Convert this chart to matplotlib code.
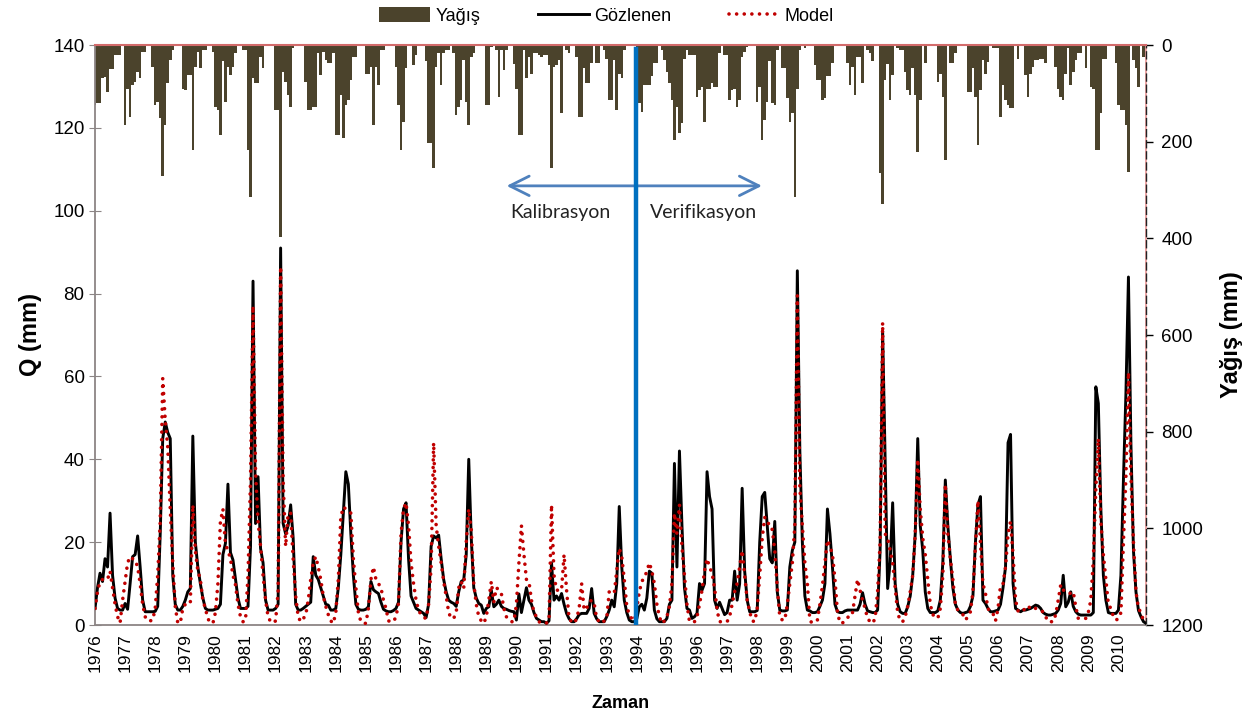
import matplotlib
matplotlib.use("Agg")
import matplotlib.pyplot as plt
import numpy as np
from matplotlib.lines import Line2D
from matplotlib.patches import Patch

# monthly series, Jan 1976 - Dec 2010 (one row = one year)
years = list(range(1976, 2011))

precip_mm = [
    124, 121, 121, 69, 67, 97, 50, 50, 21, 21, 21, 3,        # 1976
    165, 90, 148, 83, 76, 55, 69, 14, 14, 0, 0, 45,          # 1977
    125, 117, 152, 272, 165, 79, 31, 10, 3, 3, 3, 90,        # 1978
    93, 62, 62, 217, 45, 14, 48, 10, 10, 3, 0, 14,           # 1979
    128, 134, 186, 34, 117, 45, 62, 45, 17, 0, 0, 10,        # 1980
    10, 217, 314, 69, 79, 79, 24, 48, 3, 0, 0, 3,            # 1981
    134, 134, 397, 55, 76, 103, 128, 7, 3, 0, 0, 0,          # 1982
    76, 134, 134, 128, 128, 17, 62, 14, 31, 38, 38, 17,      # 1983
    186, 186, 103, 193, 124, 114, 72, 24, 24, 3, 0, 0,       # 1984
    59, 59, 45, 166, 45, 83, 10, 10, 3, 3, 3, 3,             # 1985
    45, 124, 217, 159, 48, 3, 3, 41, 21, 3, 3, 3,            # 1986
    34, 203, 203, 255, 45, 17, 83, 17, 10, 10, 3, 17,        # 1987
    145, 128, 114, 31, 117, 166, 24, 17, 3, 3, 3, 3,         # 1988
    124, 124, 5, 3, 10, 107, 10, 52, 10, 0, 0, 40,           # 1989
    90, 186, 186, 10, 69, 24, 59, 17, 17, 21, 24, 21,        # 1990
    21, 41, 255, 45, 41, 31, 141, 3, 10, 17, 3, 3,           # 1991
    24, 148, 148, 48, 79, 79, 38, 3, 38, 38, 3, 10,          # 1992
    28, 114, 114, 31, 134, 59, 69, 10, 3, 0, 0, 0,           # 1993
    121, 121, 138, 83, 83, 83, 65, 38, 38, 3, 10, 31,        # 1994
    55, 79, 114, 197, 128, 183, 162, 28, 10, 21, 21, 21,     # 1995
    107, 93, 86, 159, 90, 90, 79, 86, 86, 17, 3, 21,         # 1996
    21, 114, 93, 90, 128, 114, 24, 14, 5, 0, 3, 3,           # 1997
    117, 86, 197, 155, 117, 34, 121, 124, 10, 3, 48, 48,     # 1998
    110, 159, 141, 314, 90, 10, 3, 7, 3, 3, 3, 41,           # 1999
    72, 72, 114, 110, 65, 65, 38, 3, 0, 0, 0, 0,             # 2000
    38, 83, 45, 103, 24, 24, 79, 3, 10, 17, 34, 0,           # 2001
    3, 265, 328, 72, 40, 114, 62, 3, 7, 10, 10, 55,          # 2002
    93, 103, 48, 103, 221, 114, 3, 38, 3, 3, 0, 0,           # 2003
    76, 59, 107, 238, 3, 38, 38, 17, 3, 3, 3, 3,             # 2004
    97, 97, 48, 107, 207, 93, 31, 59, 35, 3, 7, 7,           # 2005
    7, 148, 83, 114, 124, 131, 131, 3, 28, 3, 3, 62,         # 2006
    107, 59, 45, 31, 31, 28, 28, 38, 3, 3, 3, 45,            # 2007
    90, 107, 114, 60, 7, 83, 55, 31, 17, 17, 3, 48,          # 2008
    3, 86, 90, 217, 217, 140, 28, 28, 3, 0, 0, 38,           # 2009
    124, 134, 134, 166, 262, 3, 31, 48, 86, 0, 24, 24,       # 2010
]

observed_q = [
    4, 9, 12.5, 10.5, 16, 14, 27, 12, 6.5, 4, 3.6, 3.6,
    5.2, 3.8, 10, 16.5, 17, 21.5, 14, 6, 3.2, 3.2, 3.2, 3.2,
    3.3, 4.5, 22, 45, 49, 46.5, 45, 12, 5, 3.6, 3.6, 4.5,
    6, 8, 8.8, 45.6, 20, 14, 10, 6.5, 4, 3.6, 3.6, 3.6,
    3.8, 4, 5, 17, 19.7, 34, 17.5, 15.7, 11, 6.5, 4, 4,
    4, 4.5, 19, 83, 24.5, 35.8, 18.5, 15, 6, 3.6, 3.6, 3.6,
    4, 5, 91, 24.5, 22, 24, 29, 21, 5, 3.6, 3.6, 4,
    4.5, 5, 5.5, 16.5, 12, 11, 9, 7, 5, 4.8, 3.6, 3.6,
    4, 9, 17, 27, 37, 34, 22, 12, 5, 3.8, 3.6, 3.6,
    3.8, 4.4, 10.5, 8.5, 8, 7.6, 5.5, 3.8, 3.4, 3.2, 3.2, 3.5,
    4, 5.5, 20, 28, 29.5, 16, 7, 5.5, 4, 3.6, 3.2, 2.8,
    1.8, 5, 19, 21.5, 21, 21.7, 16, 11, 8, 6, 5.5, 5.2,
    4.5, 8, 10.5, 10.9, 17, 40, 21, 9, 6.5, 5.2, 4.8, 2.8,
    4, 4.4, 8.4, 4.4, 5, 6, 4.5, 4, 3.8, 3.5, 3.3, 3.2,
    1.2, 7.5, 3, 6, 9, 6, 5, 3, 1.6, 1.2, 0.8, 0.8,
    0.4, 1, 15, 6, 7, 6, 7.6, 5, 2.8, 1.5, 0.8, 0.8,
    1.5, 2.5, 2.8, 2.8, 2.8, 4, 8.8, 2.8, 1.5, 0.8, 0.8, 0.8,
    2, 3.6, 6, 4.4, 10, 28.6, 14, 6, 3, 1.2, 0.8, 0.8,
    1.5, 4.4, 5, 3.6, 6.5, 13, 12.5, 3.6, 1.5, 0.8, 0.8, 0.8,
    1.6, 5, 6, 39, 14, 42, 24, 9, 4, 3.6, 1.6, 2,
    2.8, 10, 8.4, 10, 37, 31, 28, 6, 4, 5.5, 4, 2.5,
    3, 6, 6, 13, 6, 10, 33, 13, 6, 3.2, 3.2, 3.2,
    3.5, 20, 31, 32, 24, 16, 15, 25, 8, 3.6, 3.4, 3.4,
    3.6, 14, 18, 20, 85.5, 42, 20, 7, 3.6, 3.4, 3, 3,
    3.2, 4.5, 6, 10, 28, 22, 14, 5, 3.2, 3, 3, 3.4,
    3.6, 3.6, 3.6, 3.6, 3.6, 5, 7.8, 5, 3.4, 3.2, 3, 3,
    3.6, 18, 71, 40, 8.8, 15, 29.5, 10, 5, 3.2, 2.8, 2.8,
    4.4, 7, 12, 22, 45, 24, 18, 8, 4, 3, 3, 3,
    3.4, 6, 15, 35, 24, 16, 9, 5, 3.6, 3, 2.8, 3,
    3.2, 4.5, 7, 20, 29, 31, 6, 5.2, 4, 3.2, 3.2, 3.4,
    3.6, 5, 9, 14, 44, 46, 10, 4, 3.6, 3.2, 3.6, 3.6,
    3.8, 4, 4.4, 4.8, 4.6, 4, 3, 2.6, 2.4, 2.4, 2.6, 2.8,
    3.6, 5.2, 12, 4.4, 5.5, 8, 4.5, 3.2, 2.6, 2.4, 2.4, 2.4,
    2.4, 2.4, 3, 57.5, 53.5, 28, 12, 6, 3, 2.8, 2.8, 2.8,
    3.6, 12, 35, 56, 84, 43.5, 18, 8, 3.5, 2, 0.8, 0.4,
]

model_q = [
    4, 8, 10.5, 11, 11, 11, 13, 9, 5, 2, 0.5, 6,
    10.5, 15, 16.5, 16, 15.7, 14, 10, 5, 2, 1, 1, 1.2,
    4, 12, 25, 59.5, 49.5, 43, 28, 15, 4.4, 0.5, 0.5, 4,
    5, 5, 5.2, 29, 18, 13, 11, 6, 4, 1.5, 0.6, 0.4,
    3, 10, 25, 28, 19.5, 18, 16, 12, 9.7, 5, 2, 0.8,
    1, 12, 35, 77, 37, 25, 19, 12, 6, 2, 0.8, 0.5,
    1, 8, 86.5, 35, 19, 27, 27, 16, 7, 2, 0.8, 1.5,
    2.4, 6, 11, 15, 16.5, 14, 11, 7, 4.5, 2.5, 1, 0.4,
    3, 11, 26, 28.5, 28, 27.5, 27, 16, 9, 3, 0.8, 0.4,
    0.4, 4, 11, 14, 11, 10, 9, 6, 4, 1, 0.8, 0.8,
    2, 5.2, 22, 28, 29.5, 24, 15, 10, 6, 3.6, 2.4, 1.8,
    1.6, 5, 14, 44, 24, 19, 15, 10.5, 7, 3, 1.6, 1.6,
    3, 9, 10.5, 8.8, 20, 28, 23, 10, 5, 2, 1, 0.4,
    2, 6, 10.5, 5.5, 9, 8.5, 7.6, 4, 2, 1.2, 0.8, 0.8,
    5, 15, 24, 17, 11, 10.5, 6, 3, 2, 0.8, 0.4, 0.4,
    0.5, 1, 29, 12, 8.4, 8.4, 8.4, 17, 8.4, 1.6, 0.8, 0.4,
    1.5, 4, 10, 3.6, 4, 5.5, 6, 5.2, 1.6, 0.8, 0.4, 1,
    1.6, 8, 7.8, 7.6, 13, 18.5, 16.5, 11, 4.5, 2.5, 1.5, 1,
    4, 8, 10.5, 11.5, 12.9, 15, 13, 10, 5, 2, 0.4, 1,
    2, 4.5, 10, 27, 22, 29, 19, 12, 5, 0.8, 0.8, 0.8,
    2, 5, 8.4, 13, 16, 14, 12.5, 9, 3.6, 0.8, 0.8, 0.8,
    0.8, 2, 5, 8, 10, 14, 18, 12, 6, 3.2, 1, 0.8,
    4, 12, 21, 26, 24.5, 24.5, 23, 18, 9, 2, 1.2, 1.2,
    5, 10, 15, 24, 79.5, 33, 24, 15, 10, 1, 0.5, 1,
    1.2, 5, 9.5, 15, 20.5, 19, 17, 11, 3, 0.5, 0.5, 1,
    1.6, 3, 3, 7, 11, 8.4, 6, 4, 1.6, 0.8, 0.4, 1.6,
    8, 20, 73, 22, 21, 18, 15, 9, 3, 1, 0.8, 2,
    4.5, 8, 12, 22, 40, 28, 21, 17, 11, 5, 2.5, 2,
    1.6, 4, 12, 34, 22, 16, 11, 5, 3.6, 3, 2.5, 1.2,
    2, 3.2, 8, 19, 30, 20, 10, 7.6, 4, 3, 2.8, 1,
    4, 9.5, 10, 14, 22, 25, 17, 6, 3.4, 3.2, 3.2, 4.5,
    4.5, 4, 4.4, 4, 3.6, 3.4, 3.2, 2, 0.8, 0.8, 0.8, 2.5,
    6, 9.7, 8.4, 8.4, 7.8, 7.6, 8, 4.4, 1.6, 1.6, 1.6, 1.6,
    3, 6, 15.7, 33, 45, 25, 17, 11, 5, 4, 2, 1.2,
    1.5, 3, 20, 36, 61, 36, 20, 8, 4, 3, 1, 0.4,
]

# calibration / verification split (between Dec 1993 and Jan 1994)
split_month = 215.5
arrow_months = (163, 267)
arrow_q = 106

BAR_COLOR = "#4b432c"
MODEL_COLOR = "#c00000"
SPLIT_COLOR = "#0070c0"
ARROW_COLOR = "#4f81bd"
AXIS_GRAY = "#8c8585"
MODEL_STYLE = (0, (0.01, 2.1))

plt.rcParams["font.family"] = ["Liberation Sans", "DejaVu Sans"]

n = len(observed_q)
months = np.arange(n)

fig = plt.figure(figsize=(12.51, 7.17), dpi=100)
ax = fig.add_axes([95 / 1251, 1 - 625 / 717, (1146 - 95) / 1251, 580 / 717])
ax2 = ax.twinx()

# rainfall bars hanging from the top (secondary axis, inverted)
ax2.bar(months, precip_mm, width=1.0, color=BAR_COLOR, linewidth=0)
ax2.set_ylim(1200, 0)
ax2.set_yticks(range(0, 1201, 200))
ax2.tick_params(axis="y", direction="out", length=5, width=1, labelsize=13.5, pad=6)
ax2.set_ylabel("Yağış (mm)", fontsize=17, fontweight="bold", labelpad=12)

# lines on top of the bars
ax.set_zorder(ax2.get_zorder() + 1)
ax.patch.set_visible(False)

ax.plot(months, observed_q, color="black", lw=2.1, zorder=3)
ax.plot(months, model_q, color=MODEL_COLOR, lw=2.6, linestyle=MODEL_STYLE,
        dash_capstyle="round", zorder=4)

ax.plot([split_month, split_month], [0, 139], color=SPLIT_COLOR, lw=3.2, zorder=5)
ax.annotate("", xy=(arrow_months[0], arrow_q), xytext=(arrow_months[1], arrow_q),
            arrowprops=dict(arrowstyle="<->,head_length=0.7,head_width=0.35",
                            color=ARROW_COLOR, lw=2.0, mutation_scale=20))
ax.text(split_month - 30, arrow_q - 6.5, "Kalibrasyon", ha="center", va="center",
        fontsize=14, family=["Lato", "DejaVu Sans"], color="#222222")
ax.text(split_month + 27, arrow_q - 6.5, "Verifikasyon", ha="center", va="center",
        fontsize=14, family=["Lato", "DejaVu Sans"], color="#222222")

ax.set_xlim(0, n - 1)
ax.set_ylim(0, 140)
ax.set_yticks(range(0, 141, 20))
ax.set_xticks(np.arange(0, n, 12))
ax.set_xticklabels([str(y) for y in years], rotation=90, fontsize=12.5)
ax.tick_params(axis="y", direction="inout", length=8, color=AXIS_GRAY, labelsize=13.5)
ax.tick_params(axis="x", direction="out", length=0, pad=6)
ax.set_ylabel("Q (mm)", fontsize=17, fontweight="bold", labelpad=8)
ax.set_xlabel("Zaman", fontsize=13, fontweight="bold", labelpad=16)

for side in ["left", "bottom"]:
    ax.spines[side].set_color(AXIS_GRAY)
    ax.spines[side].set_linewidth(1.3)
ax.spines["top"].set_color("#d36b6b")
ax.spines["top"].set_linewidth(1.5)
ax.spines["right"].set_color("#222222")
ax.spines["right"].set_linestyle((0, (5, 3)))
ax.spines["right"].set_linewidth(1.0)
for side in ["left", "top", "bottom"]:
    ax2.spines[side].set_visible(False)
ax2.spines["right"].set_color("#eaa3a3")
ax2.spines["right"].set_linewidth(1.4)

handles = [
    Patch(facecolor=BAR_COLOR, edgecolor="none"),
    Line2D([], [], color="black", lw=2.1),
    Line2D([], [], color=MODEL_COLOR, lw=2.6, linestyle=MODEL_STYLE, dash_capstyle="round"),
]
fig.legend(handles, ["Yağış", "Gözlenen", "Model"], loc="center",
           bbox_to_anchor=(0.485, 1 - 16 / 717), ncol=3, frameon=False, fontsize=13,
           handlelength=2.8, handleheight=0.9, handletextpad=0.3, columnspacing=3.2)

fig.savefig("out.png", dpi=100)
